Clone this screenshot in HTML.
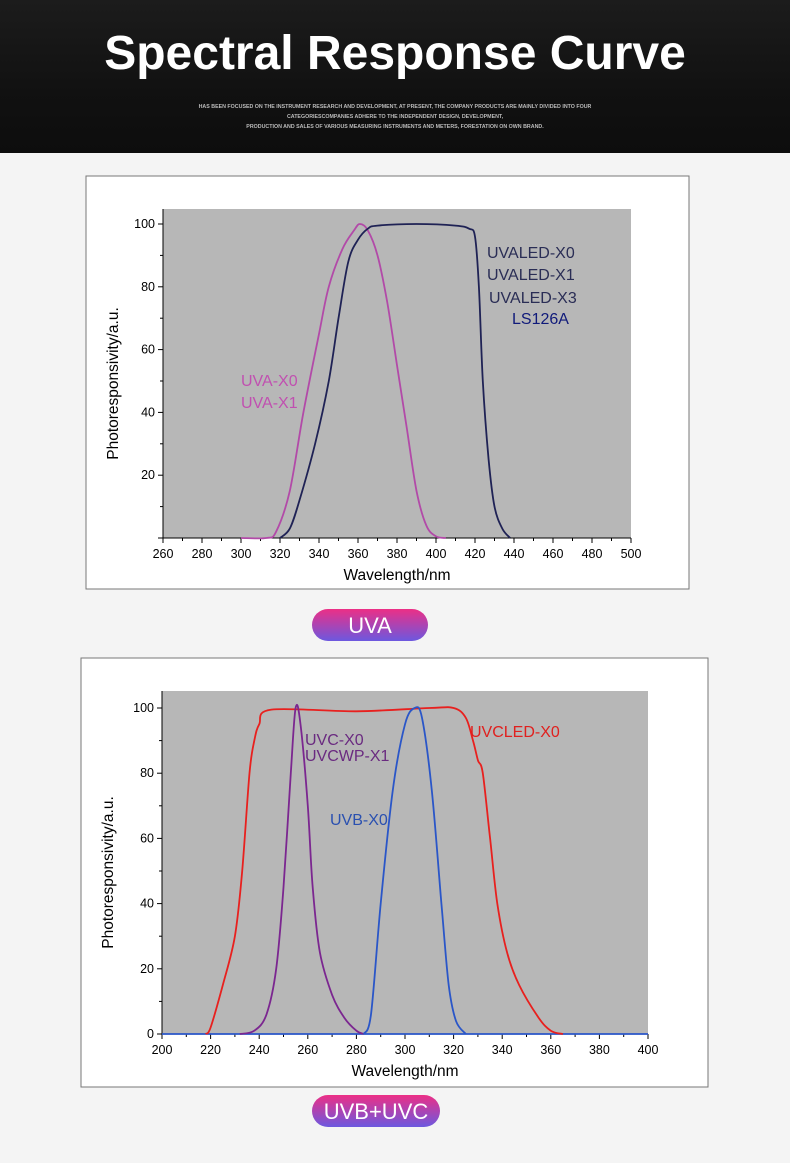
<!DOCTYPE html>
<html><head><meta charset="utf-8"><style>
body{margin:0;width:790px;height:1163px;background:#f4f4f4;font-family:"Liberation Sans",sans-serif;overflow:hidden;position:relative}
.hdr{position:absolute;left:0;top:0;width:790px;height:153px;background:linear-gradient(180deg,#1c1c1c,#111 60%,#0d0d0d)}
.hdr h1{margin:0;position:absolute;top:26px;width:100%;text-align:center;color:#fff;font-size:48px;font-weight:bold}
.hdr p{margin:0;position:absolute;top:102px;width:100%;text-align:center;color:#bbb;font-size:5.3px;line-height:10px;font-weight:bold}
.pill{position:absolute;height:32px;border-radius:16px;background:linear-gradient(180deg,#ec2f86,#6c58df);color:#fff;font-size:22px;text-align:center;line-height:33px}
svg{position:absolute;left:0;top:0}
</style></head><body>
<div class="hdr"><h1>Spectral Response Curve</h1>
<p>HAS BEEN FOCUSED ON THE INSTRUMENT RESEARCH AND DEVELOPMENT, AT PRESENT, THE COMPANY PRODUCTS ARE MAINLY DIVIDED INTO FOUR<br>CATEGORIESCOMPANIES ADHERE TO THE INDEPENDENT DESIGN, DEVELOPMENT,<br>PRODUCTION AND SALES OF VARIOUS MEASURING INSTRUMENTS AND METERS, FORESTATION ON OWN BRAND.</p></div>
<div class="pill" style="left:312px;top:609px;width:116px">UVA</div>
<div class="pill" style="left:312px;top:1095px;width:128px">UVB+UVC</div>
<svg width="790" height="1163" font-family="Liberation Sans, sans-serif" id="s"></svg>
<script>
const s=document.getElementById('s');let h='';
function smooth(pts){let d=`M${pts[0][0].toFixed(1)},${pts[0][1].toFixed(1)}`;
 for(let i=0;i<pts.length-1;i++){const p0=pts[i-1]||pts[i],p1=pts[i],p2=pts[i+1],p3=pts[i+2]||p2;
 const c1=[p1[0]+(p2[0]-p0[0])/6,p1[1]+(p2[1]-p0[1])/6],c2=[p2[0]-(p3[0]-p1[0])/6,p2[1]-(p3[1]-p1[1])/6];
 d+=` C${c1[0].toFixed(1)},${c1[1].toFixed(1)} ${c2[0].toFixed(1)},${c2[1].toFixed(1)} ${p2[0].toFixed(1)},${p2[1].toFixed(1)}`;}return d;}
function chart(o){
 const X=v=>o.x0+(v-o.xmin)*(o.x1-o.x0)/(o.xmax-o.xmin), Y=v=>o.yb-v*o.ys;
 h+=`<rect x="${o.fx}" y="${o.fy}" width="${o.fw}" height="${o.fh}" fill="#fff" stroke="#777" stroke-width="1"/>`;
 h+=`<rect x="${o.x0}" y="${o.gt}" width="${o.x1-o.x0}" height="${o.yb-o.gt}" fill="#b7b7b7"/>`;
 h+=`<line x1="${o.x0}" y1="${o.gt}" x2="${o.x0}" y2="${o.yb}" stroke="#000"/><line x1="${o.x0}" y1="${o.yb}" x2="${o.x1}" y2="${o.yb}" stroke="#000"/>`;
 for(let v=o.xmin;v<=o.xmax;v+=10){let x=X(v),maj=(v-o.xmin)%20==0;h+=`<line x1="${x}" y1="${o.yb}" x2="${x}" y2="${o.yb+(maj?5:3)}" stroke="#000"/>`;if(maj)h+=`<text x="${x}" y="${o.yb+20}" font-size="12.5" text-anchor="middle">${v}</text>`;}
 for(let v=0;v<=100;v+=10){let y=Y(v),maj=v%20==0;h+=`<line x1="${o.x0}" y1="${y}" x2="${o.x0-(maj?5:3)}" y2="${y}" stroke="#000"/>`;if(maj&&(v>0||o.zero))h+=`<text x="${o.x0-8}" y="${y+4}" font-size="12.5" text-anchor="end">${v}</text>`;}
 h+=`<text x="${(o.x0+o.x1)/2}" y="${o.yb+42}" font-size="15.5" text-anchor="middle">Wavelength/nm</text>`;
 h+=`<text transform="translate(${o.fx+32},${(o.gt+o.yb)/2+10}) rotate(-90)" font-size="15.5" text-anchor="middle">Photoresponsivity/a.u.</text>`;
 for(const c of o.curves){h+=`<path fill="none" stroke="${c.col}" stroke-width="1.8" stroke-linejoin="round" d="${smooth(c.p.map(q=>[X(q[0]),Y(q[1])]))}"/>`;}
 for(const t of o.labels)h+=`<text x="${t[0]}" y="${t[1]}" font-size="16" fill="${t[3]}">${t[2]}</text>`;
}
const P=a=>{let r=[];for(let i=0;i<a.length;i+=2)r.push([a[i],a[i+1]]);return r};
chart({fx:86,fy:176,fw:603,fh:413,x0:163,x1:631,xmin:260,xmax:500,gt:209,yb:538,ys:3.14,zero:false,
curves:[{col:"#b24aa8",p:P([300,0,313,0,318,2,325,15,332,40,340,65,345,80,352,92,358,98,361,100,365,98,370,90,375,75,380,55,385,35,390,15,395,4,400,0.5,405,0])},
{col:"#1f2255",p:P([320,0,325,3,330,12,338,30,345,50,350,70,355,88,360,95,365,98.5,370,99.5,390,100,410,99.5,417,98.5,420,96,422,80,424,50,427,25,430,10,434,3,438,0])}],
labels:[[487,258,"UVALED-X0","#2a2d55"],[487,280,"UVALED-X1","#2a2d55"],[489,303,"UVALED-X3","#2a2d55"],[512,324,"LS126A","#101a7a"],[241,386,"UVA-X0","#c050b0"],[241,408,"UVA-X1","#c050b0"]]});
chart({fx:81,fy:658,fw:627,fh:429,x0:162,x1:648,xmin:200,xmax:400,gt:691,yb:1034,ys:3.26,zero:true,
curves:[{col:"#2a56c8",p:P([200,0,400,0])},
{col:"#e8201e",p:P([218,0,220,2,225,15,230,30,233,50,236,80,238,90,240,95,245,99.5,280,99,310,100,320,100,325,97,328,90,330,84,332,80,335,60,338,40,342,25,347,15,355,5,360,1,365,0])},
{col:"#7b2690",p:P([232,0,238,1,243,6,247,20,250,45,253,80,255,100,257,95,260,70,262,45,265,25,270,12,275,5,280,1,283,0])},
{col:"#2a56c8",p:P([283,0,286,6,290,40,295,75,300,95,304,100,307,97,311,75,315,40,318,15,321,4,325,0])}],
labels:[[470,737,"UVCLED-X0","#e0201e"],[305,745,"UVC-X0","#6a2a80"],[305,761,"UVCWP-X1","#6a2a80"],[330,825,"UVB-X0","#2a50b0"]]});
s.innerHTML=h;
</script>
</body></html>
